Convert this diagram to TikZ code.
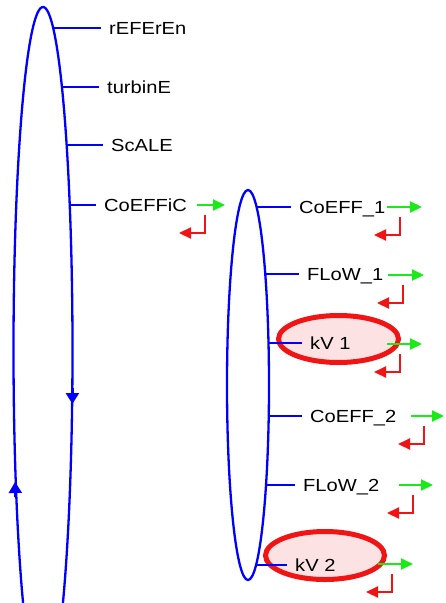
\documentclass[tikz,border=0pt]{standalone}
\usepackage{fontspec}
\setmainfont{Liberation Sans}[FakeStretch=1.15]
\usetikzlibrary{arrows.meta}
\definecolor{cloop}{RGB}{0,0,255}
\definecolor{cfwd}{RGB}{25,235,25}
\definecolor{cbwd}{RGB}{240,20,20}
\definecolor{chilite}{RGB}{252,226,226}

\begin{document}
\begin{tikzpicture}[x=1pt,y=-1pt,font=\fontsize{17.5}{20}\selectfont,
  branch/.style={cloop,line width=2.3pt},
  lbl/.style={anchor=base west,inner xsep=8pt,inner ysep=0pt},
  fwd/.style={cfwd,line width=2.2pt,-{Triangle[length=12pt,width=11pt]}},
  bwd/.style={cbwd,line width=2.2pt,-{Triangle[length=12pt,width=11pt]}},
  hilite/.style={cbwd,line width=5pt,fill=chilite}]
  \useasboundingbox (0,0) rectangle (445,603);
  % forward / back arrows: \ioarr{x}{y}{length}{xback}
  \newcommand{\ioarr}[4]{\draw[fwd] (#1,#2) -- ++(#3,0);
     \draw[bwd] (#4,#2+10) -- (#4,#2+28) -- (#4-26,#2+28);}
  % highlighted entries
  \draw[hilite] (338.5,339) ellipse [x radius=60, y radius=23.5];
  \draw[hilite] (325,555.5) ellipse [x radius=59.5, y radius=24];
  % outer loop, cut by the page
  \begin{scope}
    \clip (0,0) rectangle (445,603);
    \draw[branch] (43,350) ellipse [x radius=29.5, y radius=343];
  \end{scope}
  \draw[branch,-{Triangle[length=11pt,width=13pt]}] (72.4,388) -- (72.4,404);
  \draw[branch,-{Triangle[length=11pt,width=13pt]}] (15.4,497) -- (15.0,482);
  % inner loop
  \draw[branch] (248,385) ellipse [x radius=21, y radius=195];
  % points on the loops
  \coordinate (pRef) at (53,28);
  \coordinate (pTur) at (62,87);
  \coordinate (pSca) at (67,145);
  \coordinate (pCoe) at (70,205);
  \coordinate (pCa) at (256.6,207);
  \coordinate (pFa) at (265.3,274);
  \coordinate (pKa) at (268.5,343);
  \coordinate (pCb) at (268.7,416);
  \coordinate (pFb) at (266,485);
  \coordinate (pKb) at (256.1,565);
  % labels
  \node[lbl] (ref) at (101,34.5) {rEFErEn};
  \node[lbl] (tur) at (99,93.5) {turbinE};
  \node[lbl] (sca) at (103,151.5) {ScALE};
  \node[lbl] (coe) at (96,211.5) {CoEFFiC};
  \node[lbl] (coeA) at (291,213.5) {CoEFF\_1};
  \node[lbl] (floA) at (299,280.5) {FLoW\_1};
  \node[lbl] (kvA) at (302,349.5) {kV 1};
  \node[lbl] (coeB) at (302,422.5) {CoEFF\_2};
  \node[lbl] (floB) at (295,491.5) {FLoW\_2};
  \node[lbl] (kvB) at (287,571.5) {kV 2};
  % branches
  \foreach \p/\n in {pRef/ref,pTur/tur,pSca/sca,pCoe/coe,pCa/coeA,pFa/floA,
                     pKa/kvA,pCb/coeB,pFb/floB,pKb/kvB}
    \draw[branch] (\p) -- (\p -| \n.west);
  % arrows
  \ioarr{197}{205}{28}{205}
  \ioarr{387}{207}{35}{400}
  \ioarr{388}{275}{36}{403}
  \ioarr{387}{344}{35}{400}
  \ioarr{411}{416}{33}{424}
  \ioarr{399}{485}{34}{413}
  \ioarr{378}{564}{35}{392}
\end{tikzpicture}
\end{document}
